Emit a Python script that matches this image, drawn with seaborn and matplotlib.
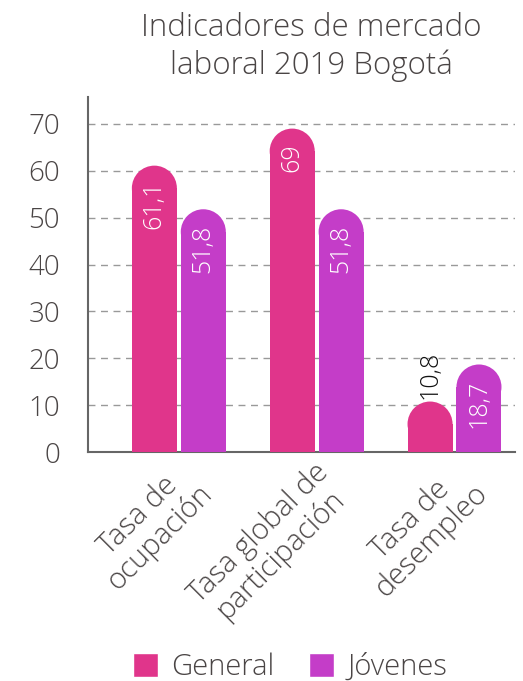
import pandas as pd
import matplotlib.pyplot as plt
import matplotlib.transforms as mtransforms
import seaborn as sns
from matplotlib.patches import Rectangle, Ellipse, Patch

# Data
categorias = ["Tasa de\nocupación", "Tasa global de\nparticipación", "Tasa de\ndesempleo"]
general = [61.1, 69, 10.8]
jovenes = [51.8, 51.8, 18.7]
etiquetas_general = ["61,1", "69", "10,8"]
etiquetas_jovenes = ["51,8", "51,8", "18,7"]

col_general = "#E0358B"
col_jovenes = "#C43DC8"
gris = "#4a4545"

df = pd.DataFrame({
    "categoria": categorias * 2,
    "valor": general + jovenes,
    "grupo": ["General"] * 3 + ["Jóvenes"] * 3,
})

sns.set_style("white")
plt.rcParams['font.family'] = ['Open Sans', 'DejaVu Sans']
plt.rcParams['font.weight'] = 'light'

fig = plt.figure(figsize=(5.23, 6.81), dpi=100)
ax = fig.add_axes([0.168, 0.336, 0.817, 0.522])

sns.barplot(data=df, x="categoria", y="valor", hue="grupo",
            palette=[col_general, col_jovenes], saturation=1, width=0.71, gap=0.08,
            legend=False, ax=ax, zorder=3)

ax.set_ylim(0, 75.8)
ax.set_xlim(-0.66, 2.44)
fig.canvas.draw()

# px per data unit
bbox = ax.get_window_extent()
px_x = bbox.width / (ax.get_xlim()[1] - ax.get_xlim()[0])
px_y = bbox.height / (ax.get_ylim()[1] - ax.get_ylim()[0])

# rounded tops: rectangle + circular cap (ellipse in data units)
bars = list(ax.patches)
labels = etiquetas_general + etiquetas_jovenes
for i, p in enumerate(bars):
    x0, w, h = p.get_x(), p.get_width(), p.get_height()
    col = p.get_facecolor()
    p.set_visible(False)
    r_y = (w * px_x / 2) / px_y
    ax.add_patch(Rectangle((x0, 0), w, h - r_y, facecolor=col, edgecolor="none", zorder=3))
    ax.add_patch(Ellipse((x0 + w / 2, h - r_y), w, 2 * r_y, facecolor=col, edgecolor="none", zorder=3))
    lab = labels[i]
    if h < 15 and i < 3:
        ax.annotate(lab, (x0 + w / 2, h), xytext=(0, 2), textcoords="offset points",
                    rotation=90, ha="center", va="bottom", color="#111111", fontsize=18)
    else:
        ax.annotate(lab, (x0 + w / 2, h), xytext=(0, -11), textcoords="offset points",
                    rotation=90, ha="center", va="top", color="white", fontsize=18)

ax.set_yticks(range(0, 71, 10))
ax.yaxis.grid(True, linestyle=(0, (5, 4)), color="#999999", linewidth=1, zorder=0)
ax.set_axisbelow(True)
ax.tick_params(axis="y", labelsize=20, labelcolor=gris, length=0, pad=20)
ax.tick_params(axis="x", labelsize=21, labelcolor=gris, length=0, pad=4)
shift = mtransforms.ScaledTranslation(-3 / 100, 0, fig.dpi_scale_trans)
for t in ax.get_xticklabels():
    t.set_rotation(45)
    t.set_ha("right")
    t.set_rotation_mode("anchor")
    t.set_multialignment("center")
    t.set_linespacing(1.0)
    t.set_transform(t.get_transform() + shift)
ax.set_xlabel("")
ax.set_ylabel("")
for s in ["top", "right"]:
    ax.spines[s].set_visible(False)
for s in ["left", "bottom"]:
    ax.spines[s].set_color("#666666")
    ax.spines[s].set_linewidth(1.5)

fig.text(0.595, 0.982, "Indicadores de mercado\nlaboral 2019 Bogotá", ha="center", va="top",
         fontsize=22.5, color=gris, linespacing=1.2)

handles = [Patch(facecolor=col_general, label="General"), Patch(facecolor=col_jovenes, label="Jóvenes")]
fig.legend(handles=handles, loc="center", bbox_to_anchor=(0.555, 0.02), ncol=2, frameon=False,
           fontsize=21, labelcolor=gris, handlelength=0.85, handleheight=0.85, columnspacing=1.2,
           handletextpad=0.45, borderpad=0)

plt.savefig("out.png", dpi=100)
